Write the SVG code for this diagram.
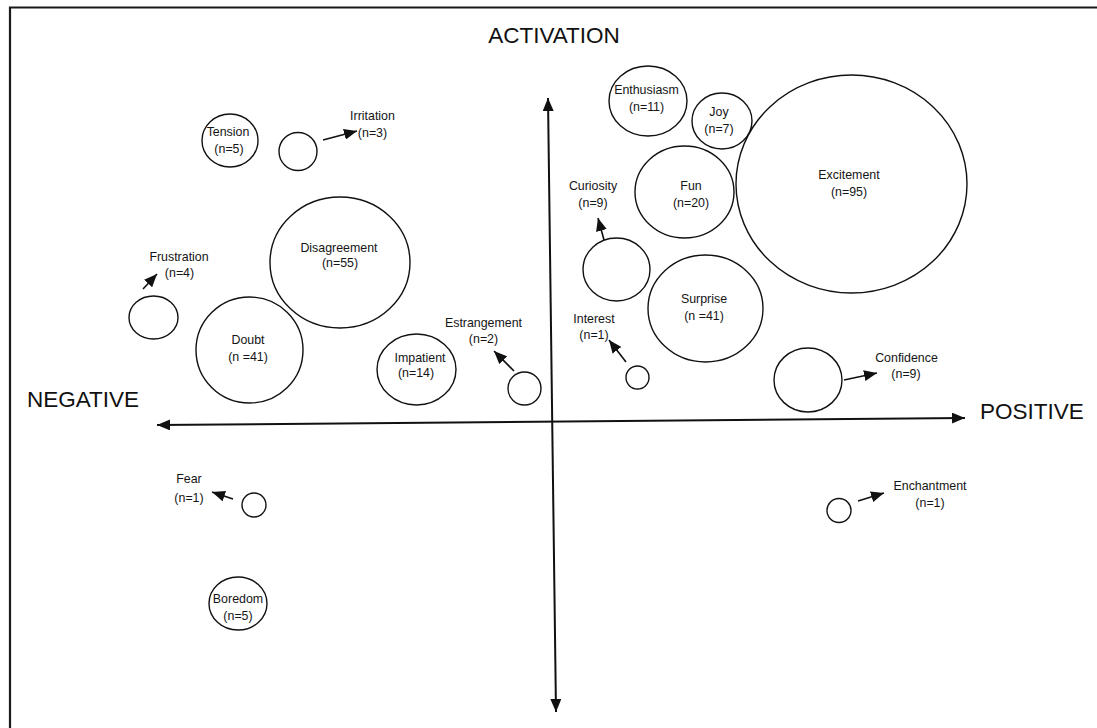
<svg xmlns="http://www.w3.org/2000/svg" width="1097" height="728" viewBox="0 0 1097 728">
<defs>
<marker id="ah" markerUnits="userSpaceOnUse" markerWidth="13" markerHeight="11" refX="13" refY="5.5" orient="auto-start-reverse" viewBox="0 0 13 11">
<path d="M0,0 L13,5.5 L0,11 z" fill="#111"/>
</marker>
<style>
.c{fill:#fff;stroke:#111;stroke-width:1.4}
.t{font-family:"Liberation Sans",Arial,sans-serif;font-size:12.4px;fill:#151515;text-anchor:middle}
.big{font-family:"Liberation Sans",Arial,sans-serif;font-size:22.5px;fill:#111}
.ax{stroke:#111;stroke-width:2;fill:none}
.ar{stroke:#111;stroke-width:1.6;fill:none}
</style>
</defs>
<rect width="1097" height="728" fill="#fff"/>
<path d="M10,728 L10,7.5 L1097,7.5" fill="none" stroke="#1a1a1a" stroke-width="2.2"/>

<g id="labels">
<text class="big" x="554" y="43" text-anchor="middle">ACTIVATION</text>
<text class="big" x="27" y="407">NEGATIVE</text>
<text class="big" x="980" y="419">POSITIVE</text>
</g>

<g id="connectors">
<line class="ax" x1="157" y1="425" x2="965" y2="418" marker-start="url(#ah)" marker-end="url(#ah)"/>
<line class="ax" x1="548" y1="98" x2="556" y2="712" marker-start="url(#ah)" marker-end="url(#ah)"/>
<line class="ar" x1="323" y1="140" x2="357" y2="131" marker-end="url(#ah)"/>
<line class="ar" x1="143" y1="289" x2="157" y2="274" marker-end="url(#ah)"/>
<line class="ar" x1="514" y1="371" x2="494" y2="351" marker-end="url(#ah)"/>
<line class="ar" x1="626" y1="362" x2="609" y2="340" marker-end="url(#ah)"/>
<line class="ar" x1="604" y1="240" x2="598" y2="218" marker-end="url(#ah)"/>
<line class="ar" x1="844" y1="380" x2="877" y2="373" marker-end="url(#ah)"/>
<line class="ar" x1="233" y1="499" x2="212" y2="492" marker-end="url(#ah)"/>
<line class="ar" x1="858" y1="501" x2="884" y2="493" marker-end="url(#ah)"/>
</g>

<g id="tension"><ellipse class="c" cx="230" cy="140.5" rx="28" ry="26.5"/><text class="t" x="228" y="136">Tension</text><text class="t" x="229" y="153">(n=5)</text></g>
<g id="irritation"><circle class="c" cx="298" cy="151.5" r="19"/><text class="t" x="372.5" y="120">Irritation</text><text class="t" x="372.5" y="137">(n=3)</text></g>
<g id="disagreement"><ellipse class="c" cx="340" cy="262.5" rx="70" ry="65.5"/><text class="t" x="339" y="252">Disagreement</text><text class="t" x="340" y="267">(n=55)</text></g>
<g id="frustration"><ellipse class="c" cx="153.5" cy="317.5" rx="24.5" ry="21.5"/><text class="t" x="179" y="261">Frustration</text><text class="t" x="179.5" y="277">(n=4)</text></g>
<g id="doubt"><ellipse class="c" cx="249.5" cy="350" rx="53.5" ry="53"/><text class="t" x="248" y="344">Doubt</text><text class="t" x="248" y="361">(n =41)</text></g>
<g id="impatient"><ellipse class="c" cx="416.5" cy="369.5" rx="39.5" ry="35.5"/><text class="t" x="420" y="362">Impatient</text><text class="t" x="416" y="377">(n=14)</text></g>
<g id="estrangement"><circle class="c" cx="524.5" cy="388.5" r="16.5"/><text class="t" x="483.5" y="327">Estrangement</text><text class="t" x="483.5" y="343">(n=2)</text></g>
<g id="interest"><circle class="c" cx="637.5" cy="377.5" r="11.5"/><text class="t" x="594" y="323">Interest</text><text class="t" x="594" y="339">(n=1)</text></g>
<g id="enthusiasm"><ellipse class="c" cx="648" cy="101" rx="39" ry="35"/><text class="t" x="646.5" y="94">Enthusiasm</text><text class="t" x="646.5" y="111">(n=11)</text></g>
<g id="joy"><ellipse class="c" cx="722" cy="121" rx="30" ry="28"/><text class="t" x="719" y="116">Joy</text><text class="t" x="719" y="133">(n=7)</text></g>
<g id="excitement"><ellipse class="c" cx="851.5" cy="184" rx="115.5" ry="109"/><text class="t" x="849" y="179">Excitement</text><text class="t" x="849" y="196">(n=95)</text></g>
<g id="fun"><ellipse class="c" cx="684.5" cy="192" rx="49.5" ry="46"/><text class="t" x="691" y="190">Fun</text><text class="t" x="691" y="207">(n=20)</text></g>
<g id="curiosity"><ellipse class="c" cx="616.5" cy="269.5" rx="33.5" ry="31.5"/><text class="t" x="593" y="190">Curiosity</text><text class="t" x="593" y="207">(n=9)</text></g>
<g id="surprise"><ellipse class="c" cx="705.5" cy="308.5" rx="57.5" ry="53.5"/><text class="t" x="704" y="303">Surprise</text><text class="t" x="704" y="320">(n =41)</text></g>
<g id="confidence"><ellipse class="c" cx="808" cy="380" rx="34" ry="32"/><text class="t" x="906.5" y="362">Confidence</text><text class="t" x="906" y="378">(n=9)</text></g>
<g id="fear"><circle class="c" cx="254" cy="505" r="12"/><text class="t" x="189" y="483">Fear</text><text class="t" x="189" y="502">(n=1)</text></g>
<g id="boredom"><ellipse class="c" cx="238" cy="603.5" rx="29" ry="26.5"/><text class="t" x="238" y="603">Boredom</text><text class="t" x="238" y="620">(n=5)</text></g>
<g id="enchantment"><circle class="c" cx="839" cy="510.5" r="12"/><text class="t" x="930" y="490">Enchantment</text><text class="t" x="930" y="507">(n=1)</text></g>
</svg>
